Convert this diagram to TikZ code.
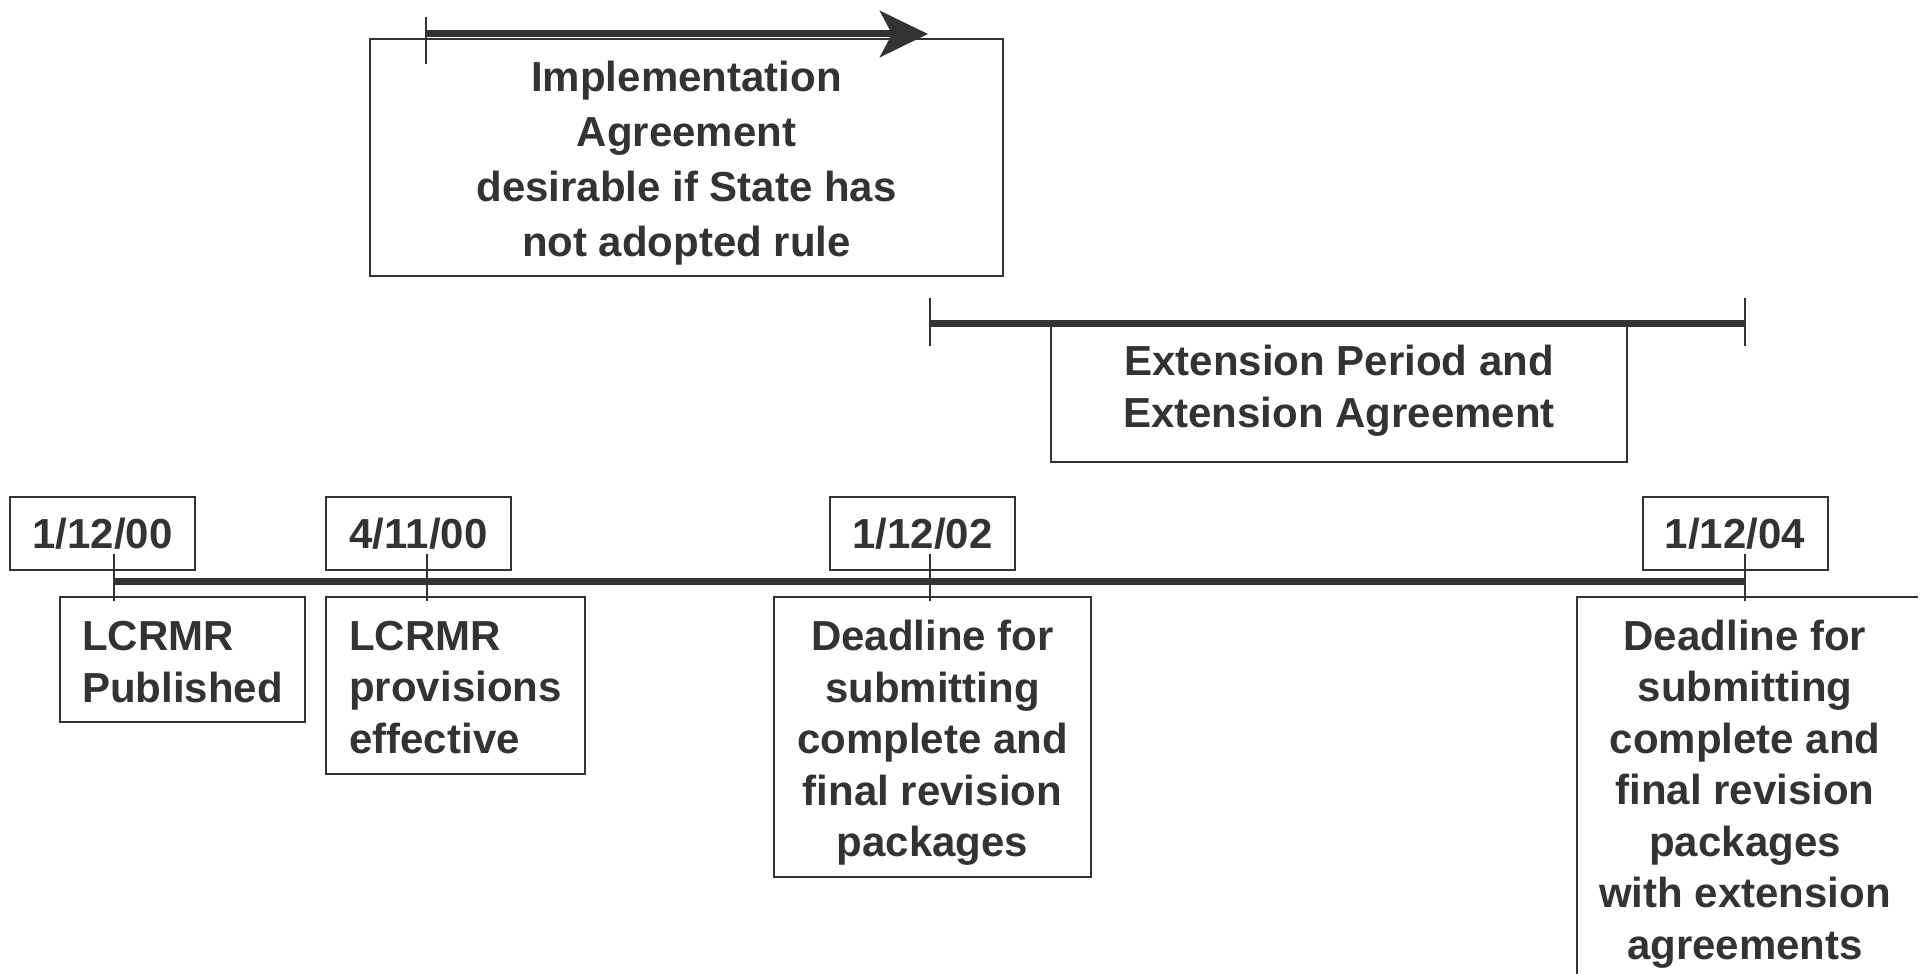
\documentclass[tikz,border=0pt]{standalone}
\usepackage{fontspec}
\setmainfont{Liberation Sans}
\usetikzlibrary{arrows.meta}
\definecolor{ink}{HTML}{333333}
\begin{document}
\begin{tikzpicture}[x=1pt,y=-1pt,
  txt/.style={text=ink, inner sep=0pt, font=\bfseries\fontsize{42}{51.5}\selectfont},
  box/.style={txt, draw=ink, line width=2pt, rectangle},
  thin/.style={draw=ink, line width=2pt},
  thick/.style={draw=ink, line width=7pt},
]
\useasboundingbox (0,0) rectangle (1923,974);

% Implementation agreement
\node[box, minimum width=633pt, minimum height=237pt] (impl) at (686.5,157.5) {};
\node[txt, align=center, font=\bfseries\fontsize{42}{55}\selectfont] (implT) at (686.5,163.5)
  {Implementation\\Agreement\\desirable if State has\\not adopted rule};
\coordinate (arrS) at (426,34);
\coordinate (arrE) at (928,34);
\coordinate (arrTa) at (426,17);
\coordinate (arrTb) at (426,64);
\draw[thick, -{Stealth[length=48pt,width=46pt,inset=12pt]}] (arrS) -- (arrE);
\draw[thin] (arrTa) -- (arrTb);

% Extension period
\node[box, minimum width=576pt, minimum height=137pt] (ext) at (1339,393.5) {};
\node[txt, align=center] (extT) at (1339,390.5) {Extension Period and\\Extension Agreement};
\coordinate (exS) at (930,323);
\coordinate (exE) at (1745,323);
\coordinate (exSa) at (930,298);
\coordinate (exSb) at (930,346);
\coordinate (exEa) at (1745,298);
\coordinate (exEb) at (1745,346);
\draw[thick] (exS) -- (exE);
\draw[thin] (exSa) -- (exSb);
\draw[thin] (exEa) -- (exEb);

% Date boxes
\node[box, minimum width=185pt, minimum height=73pt] (d1) at (102.5,533.5) {1/12/00};
\node[box, minimum width=185pt, minimum height=73pt] (d2) at (418.5,533.5) {4/11/00};
\node[box, minimum width=185pt, minimum height=73pt] (d3) at (922.5,533.5) {1/12/02};
\node[box, minimum width=185pt, minimum height=73pt] (d4) at (1735,533.5) {1/12/04};

% Timeline
\coordinate (t1) at (114,581);
\coordinate (t4) at (1745,581);
\draw[thick] (t1) -- (t4);
\foreach \n/\x in {1/114,2/427,3/930,4/1745}{
  \coordinate (tk\n a) at (\x,554);
  \coordinate (tk\n b) at (\x,601);
  \draw[thin] (tk\n a) -- (tk\n b);
}

% Event boxes
\node[box, minimum width=245pt, minimum height=125pt] (e1) at (182.5,659.5) {};
\node[txt, align=left] (e1T) at (182.5,662) {LCRMR\\Published};
\node[box, minimum width=259pt, minimum height=177pt] (e2) at (455.5,685.5) {};
\node[txt, align=left] (e2T) at (455.5,687.5) {LCRMR\\provisions\\effective};
\node[box, minimum width=317pt, minimum height=280pt] (e3) at (932.5,737) {};
\node[txt, align=center] (e3T) at (932.5,743)
  {Deadline for\\submitting\\complete and\\final revision\\packages};

% Last (open) box
\coordinate (e4bl) at (1577,980);
\coordinate (e4tl) at (1577,597);
\coordinate (e4tr) at (1918,597);
\draw[thin] (e4bl) -- (e4tl) -- (e4tr);
\node[txt, align=center] (e4T) at (1745,794)
  {Deadline for\\submitting\\complete and\\final revision\\packages\\with extension\\agreements};
\end{tikzpicture}
\end{document}
